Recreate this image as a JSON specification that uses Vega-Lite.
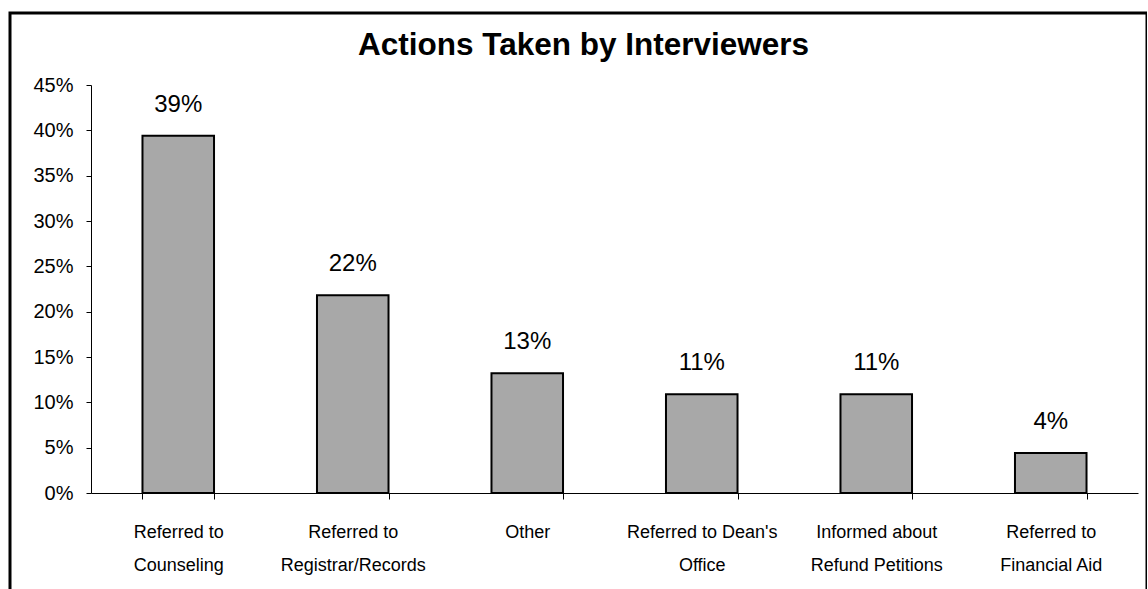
{
  "$schema": "https://vega.github.io/schema/vega-lite/v6.json",
  "width": 1137,
  "height": 590,
  "autosize": {"type": "none"},
  "padding": {"left": 10, "top": 13, "right": 0, "bottom": 0},
  "background": "white",
  "title": {"text": "Actions Taken by Interviewers", "fontSize": 31.5, "font": "Liberation Sans", "fontWeight": "bold", "anchor": "middle", "offset": -73, "baseline": "alphabetic", "dx": 5, "color": "#000"},
  "config": {"view": {"stroke": "#000", "strokeWidth": 3}},
  "data": {"values": [
    {"action": "Referred to|Counseling", "share": 0.394},
    {"action": "Referred to|Registrar/Records", "share": 0.218},
    {"action": "Other", "share": 0.132},
    {"action": "Referred to Dean's|Office", "share": 0.109},
    {"action": "Informed about|Refund Petitions", "share": 0.109},
    {"action": "Referred to|Financial Aid", "share": 0.044}
  ]},
  "encoding": {
    "x": {"field": "action", "type": "nominal", "sort": null,
      "scale": {"range": [81, 1128], "paddingInner": 0.59, "paddingOuter": 0.295},
      "axis": {"title": null, "labelAngle": 0, "domainColor": "#000", "tickColor": "#000", "tickSize": 6, "tickBand": "extent", "labelExpr": "datum.value ? split(datum.value, '|') : ''", "labelFont": "Liberation Sans", "labelFontSize": 18, "labelLineHeight": 33, "labelPadding": 24, "offset": -110, "labelColor": "#000", "labelLimit": 0}},
    "y": {"field": "share", "type": "quantitative",
      "scale": {"domain": [0, 0.45], "range": [480, 72], "nice": false, "zero": true},
      "axis": {"title": null, "values": [0, 0.05, 0.1, 0.15, 0.2, 0.25, 0.3, 0.35, 0.4, 0.45], "format": ".0%", "grid": false, "domainColor": "#000", "tickColor": "#000", "tickSize": 5, "labelFontSize": 20, "labelFont": "Liberation Sans", "labelColor": "#000", "labelPadding": 13, "offset": -81}}
  },
  "layer": [
    {"mark": {"type": "bar", "fill": "#a8a8a8", "stroke": "#000", "strokeWidth": 2}},
    {"mark": {"type": "text", "dy": -24, "baseline": "alphabetic", "fontSize": 24, "font": "Liberation Sans", "color": "#000"},
     "encoding": {"text": {"field": "share", "format": ".0%"}}}
  ]
}
